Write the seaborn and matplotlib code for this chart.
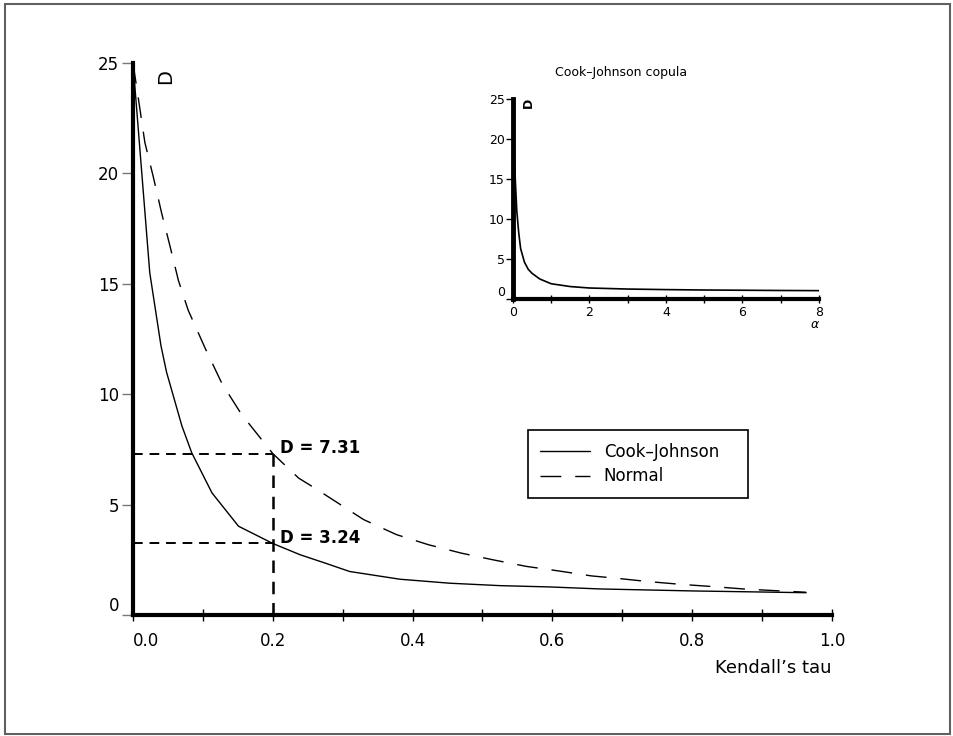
import matplotlib
matplotlib.use("Agg")
import matplotlib.pyplot as plt
import pandas as pd
import seaborn as sns
from matplotlib.patches import Rectangle

# Cook-Johnson curve, D against Kendall's tau
tau_cook = [0.0, 0.024, 0.04, 0.048, 0.07, 0.084, 0.113, 0.151, 0.2, 0.239,
            0.275, 0.31, 0.382, 0.453, 0.525, 0.597, 0.668, 0.8, 0.963]
d_cook = [25.0, 15.5, 12.2, 11.0, 8.56, 7.35, 5.53, 4.02, 3.24, 2.73,
          2.35, 1.97, 1.62, 1.44, 1.33, 1.27, 1.18, 1.09, 1.01]

# Normal copula curve
tau_normal = [0.0, 0.0067, 0.017, 0.029, 0.041, 0.053, 0.065, 0.079, 0.103, 0.127,
              0.155, 0.2, 0.237, 0.26, 0.33, 0.377, 0.423, 0.47, 0.515, 0.563,
              0.608, 0.656, 0.69, 0.735, 0.783, 0.828, 0.873, 0.92, 0.963]
d_normal = [25.0, 23.6, 21.4, 19.85, 18.2, 16.7, 15.15, 13.8, 12.1, 10.5,
            9.1, 7.31, 6.2, 5.75, 4.32, 3.64, 3.18, 2.8, 2.5, 2.2,
            2.0, 1.77, 1.67, 1.52, 1.39, 1.29, 1.18, 1.1, 1.03]

# inset: Cook-Johnson D against alpha
alpha_inset = [0.0, 0.05, 0.1, 0.15, 0.2, 0.3, 0.4, 0.5, 0.7, 1.0,
               1.5, 2.0, 3.0, 4.0, 5.0, 6.0, 7.0, 8.0]
d_inset = [25.0, 16.0, 11.0, 8.3, 6.3, 4.6, 3.7, 3.2, 2.5, 1.9,
           1.55, 1.37, 1.24, 1.17, 1.12, 1.09, 1.06, 1.04]

# marked values at tau = 0.2
mark_tau = 0.2
mark_cook = 3.24
mark_normal = 7.31

x_major = [0.0, 0.2, 0.4, 0.6, 0.8, 1.0]
x_minor = [0.1, 0.3, 0.5, 0.7, 0.9]
y_major = [0, 5, 10, 15, 20, 25]
inset_x_major = [0, 2, 4, 6, 8]
inset_x_minor = [1, 3, 5, 7]

sns.set_style("ticks")
plt.rcParams["font.family"] = ["DejaVu Sans"]
plt.rcParams.update({
    "text.color": "black",
    "axes.labelcolor": "black",
    "axes.edgecolor": "black",
    "xtick.color": "black",
    "ytick.color": "black",
})

fig = plt.figure(figsize=(9.54, 7.36), dpi=100)
ax = fig.add_axes([0.1394, 0.1644, 0.7327, 0.75])

sns.lineplot(x=tau_cook, y=d_cook, ax=ax, color="black", lw=1.0,
             label="Cook\u2013Johnson")
sns.lineplot(x=tau_normal, y=d_normal, ax=ax, color="black", lw=1.0,
             linestyle=(0, (15, 10)), label="Normal")

# guide lines for the marked values
ax.hlines([mark_normal, mark_cook], 0, mark_tau, colors="black",
          linestyles=(0, (5, 3.5)), lw=1.4)
ax.vlines(mark_tau, 0, mark_normal, colors="black",
          linestyles=(0, (5, 3.5)), lw=1.8)
ax.text(mark_tau + 0.01, mark_normal + 0.25, "D = %.2f" % mark_normal,
        fontsize=12, fontweight="bold", va="center", ha="left")
ax.text(mark_tau + 0.01, mark_cook + 0.25, "D = %.2f" % mark_cook,
        fontsize=12, fontweight="bold", va="center", ha="left")

ax.set_xlim(0, 1)
ax.set_ylim(0, 25)
ax.set_xticks(x_major)
ax.set_xticks(x_minor, minor=True)
ax.set_xticklabels(["%.1f" % v for v in x_major], fontsize=12)
ax.set_yticks(y_major)
ax.set_yticklabels([str(v) for v in y_major], fontsize=12)
ax.get_xticklabels()[0].set_ha("left")
ax.get_yticklabels()[0].set_va("bottom")
ax.tick_params(axis="x", which="both", direction="inout", length=9, width=1,
               color="black", pad=8)
ax.tick_params(axis="y", direction="out", length=8, width=1,
               color="#777777", labelcolor="black", pad=2)
ax.spines[["top", "right"]].set_visible(False)
ax.spines["left"].set_linewidth(3)
ax.spines["bottom"].set_linewidth(3)
ax.set_xlabel("Kendall\u2019s tau", fontsize=13, loc="right", labelpad=6)
ax.set_ylabel("")
ax.text(0.046, 0.975, "D", rotation=90, fontsize=14, transform=ax.transAxes,
        ha="center", va="center")

ax.legend(loc="upper left", bbox_to_anchor=(0.565, 0.2138, 0.315, 0.121),
          mode="expand", borderaxespad=0, frameon=True, fancybox=False,
          edgecolor="black", framealpha=1, handlelength=3.0, borderpad=0.75,
          labelspacing=0.4, fontsize=12)
ax.get_legend().get_frame().set_linewidth(1.2)

# inset
ax_in = fig.add_axes([0.5377, 0.5938, 0.3208, 0.2717])
sns.lineplot(x=alpha_inset, y=d_inset, ax=ax_in, color="black", lw=1.2)
ax_in.set_xlim(0, 8)
ax_in.set_ylim(0, 25)
ax_in.set_xticks(inset_x_major)
ax_in.set_xticks(inset_x_minor, minor=True)
ax_in.set_xticklabels([str(v) for v in inset_x_major], fontsize=9)
ax_in.set_yticks(y_major)
ax_in.set_yticklabels([str(v) for v in y_major], fontsize=9)
ax_in.get_yticklabels()[0].set_va("bottom")
ax_in.tick_params(axis="x", which="both", direction="inout", length=6,
                  width=1, pad=2)
ax_in.tick_params(axis="y", direction="out", length=5, width=1, pad=1)
ax_in.spines[["top", "right"]].set_visible(False)
ax_in.spines["left"].set_linewidth(3.5)
ax_in.spines["bottom"].set_linewidth(3)
ax_in.text(0.353, 1.13, "Cook\u2013Johnson copula", fontsize=9,
           transform=ax_in.transAxes, ha="center", va="center")
ax_in.text(0.049, 0.98, "D", rotation=90, fontsize=9, fontweight="bold",
           transform=ax_in.transAxes, ha="center", va="center")
ax_in.text(0.987, -0.13, "\u03b1", fontsize=9, style="italic",
           transform=ax_in.transAxes, ha="center", va="center")

# outer frame
fig.patches.append(Rectangle((0.0052, 0.0027), 0.9906, 0.9919,
                             transform=fig.transFigure, fill=False,
                             edgecolor="#606060", lw=1.5))

fig.savefig("out.png", dpi=100)
